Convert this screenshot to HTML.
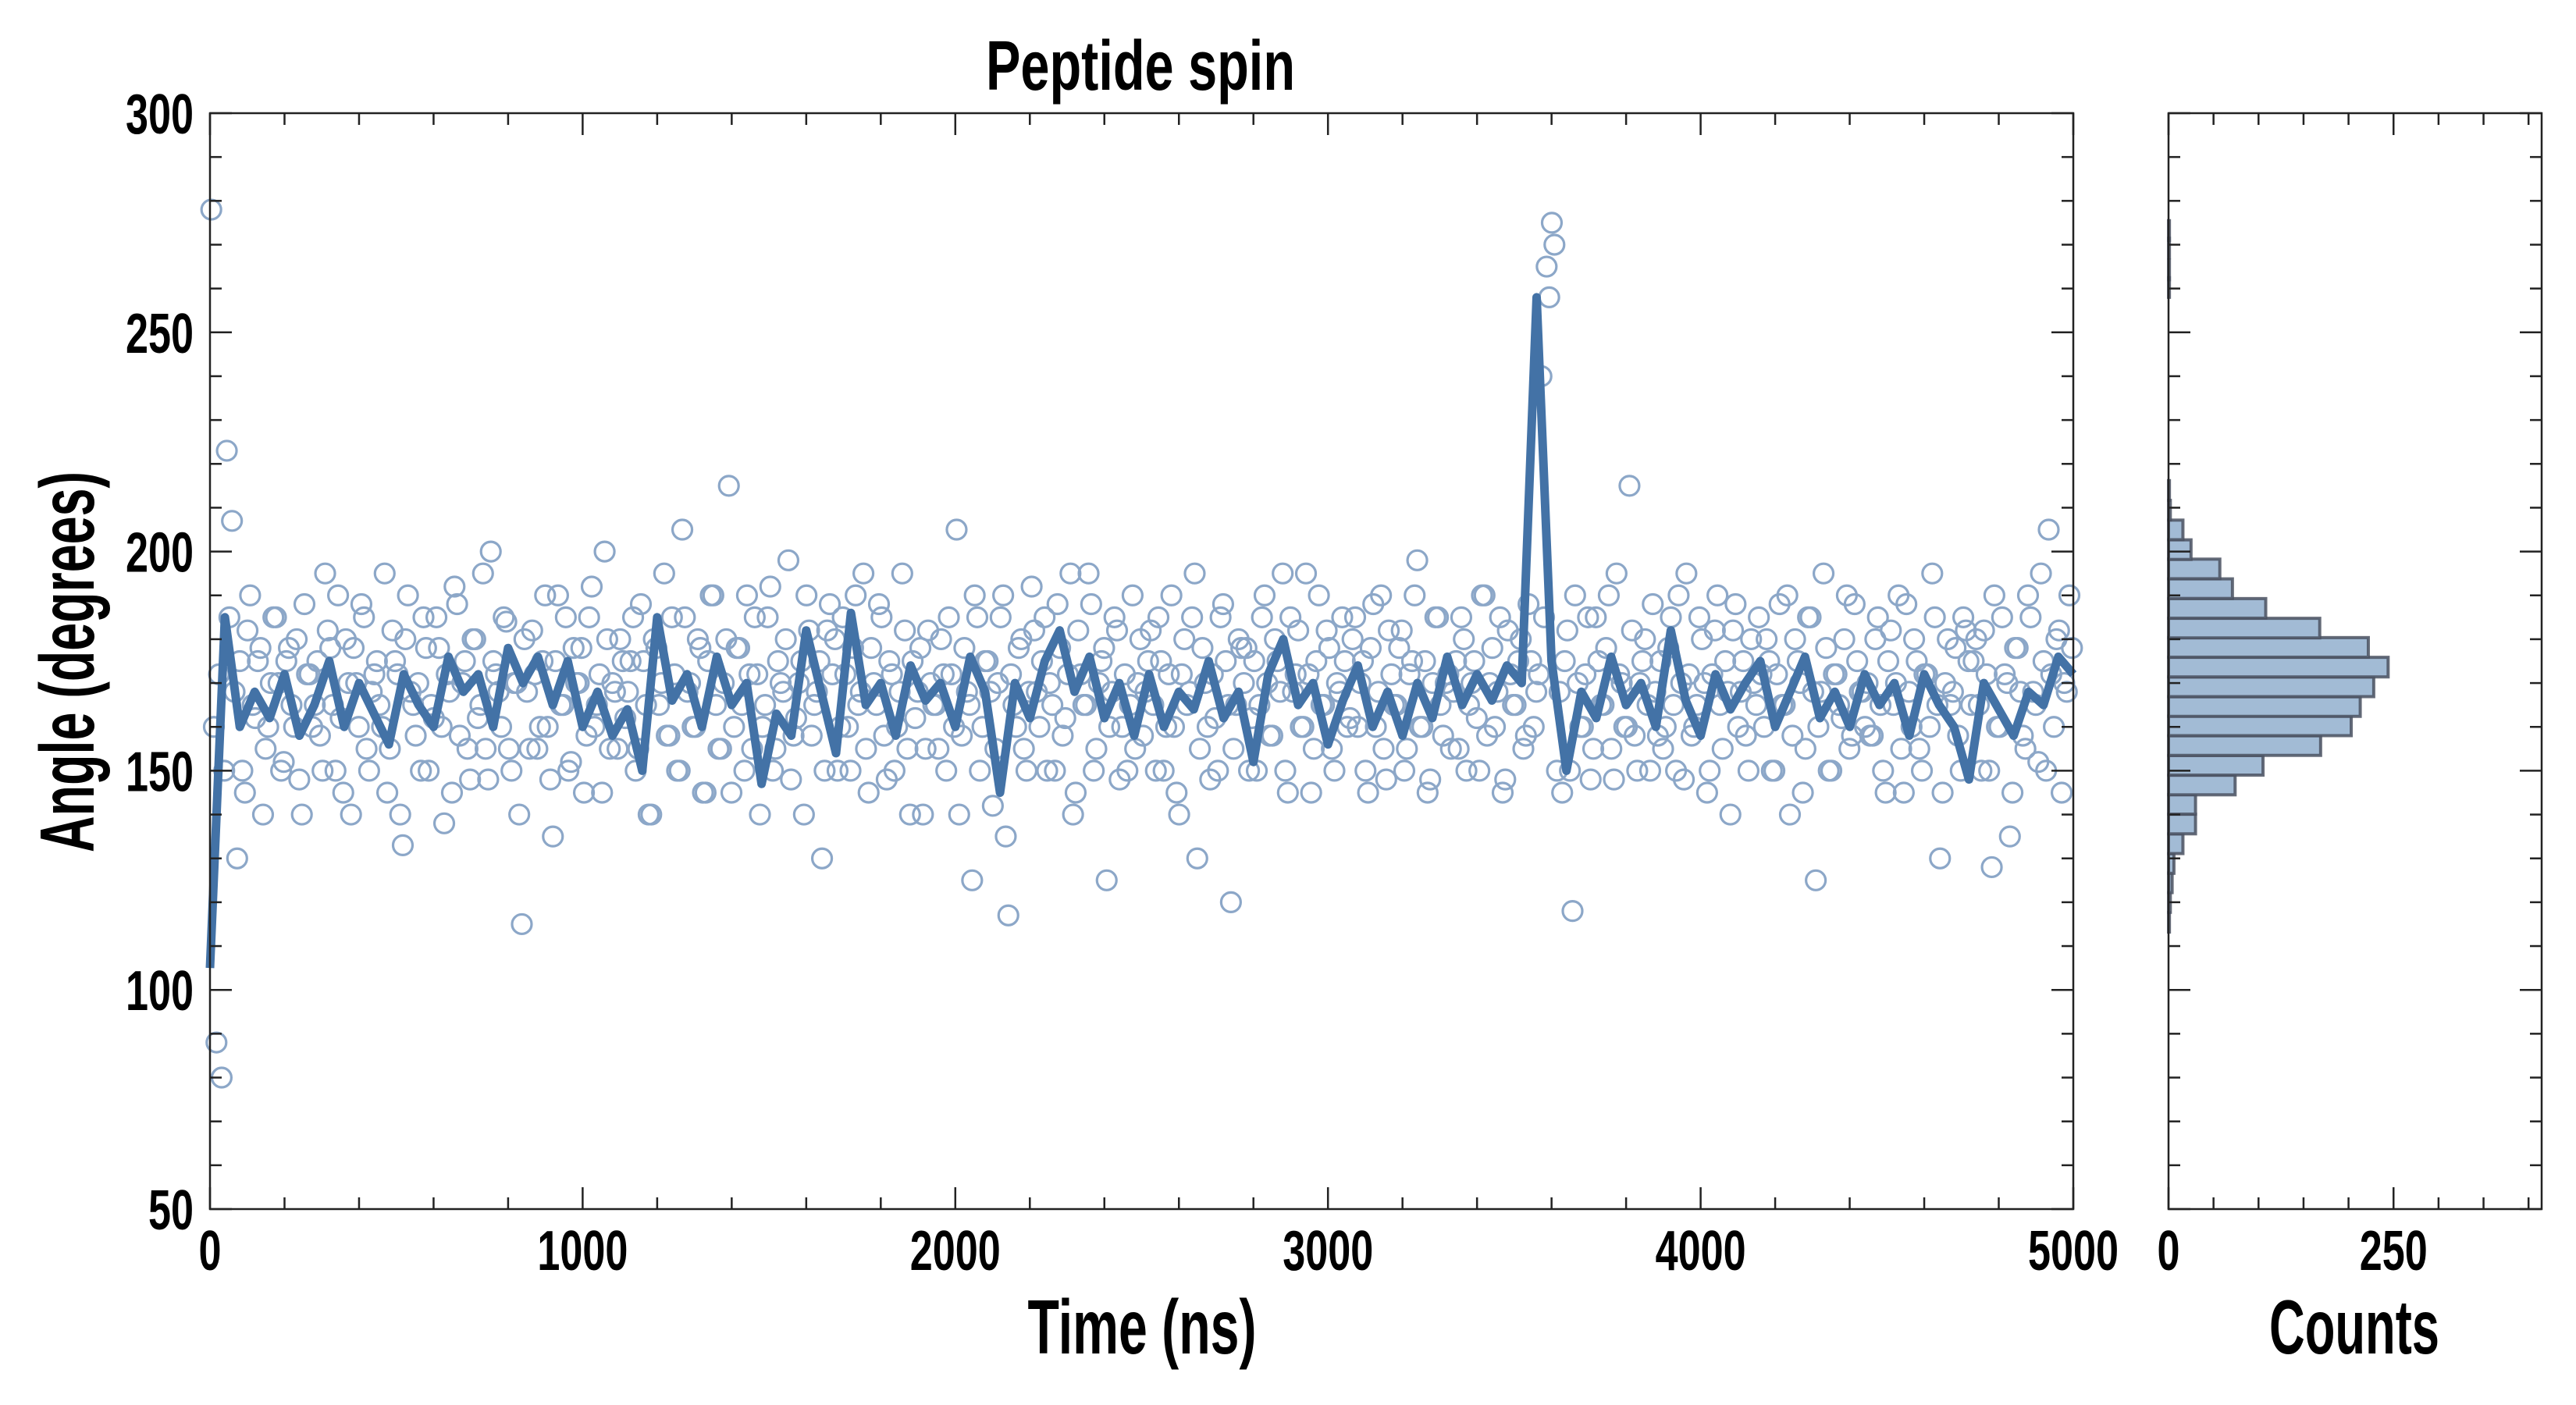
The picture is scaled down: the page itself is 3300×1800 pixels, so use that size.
<!DOCTYPE html>
<html><head><meta charset="utf-8">
<style>
html,body{margin:0;padding:0;background:#fff;}
svg{display:block;font-family:"Liberation Sans Narrow","Liberation Sans",sans-serif;font-weight:bold;}
</style></head>
<body>
<svg id="chart" width="3300" height="1800" viewBox="0 0 3300 1800" xmlns="http://www.w3.org/2000/svg">
<rect width="3300" height="1800" fill="#fff"/>
<g id="scatter"></g>
<g id="line"></g>
<g id="hist"></g>
<g id="axes"></g>
<text x="1461" y="115" font-size="90" text-anchor="middle" textLength="396" lengthAdjust="spacingAndGlyphs">Peptide spin</text>
<text x="1463" y="1734" font-size="98" text-anchor="middle" textLength="293" lengthAdjust="spacingAndGlyphs">Time (ns)</text>
<text x="3016" y="1734" font-size="98" text-anchor="middle" textLength="218" lengthAdjust="spacingAndGlyphs">Counts</text>
<text transform="translate(120,848) rotate(-90)" font-size="98" text-anchor="middle" textLength="488" lengthAdjust="spacingAndGlyphs">Angle (degrees)</text>
</svg>
<script>
const lineValues=[105,185,160,168,162,172,158,165,175,160,170,163,156,172,165,160,176,168,172,160,178,170,176,165,175,160,168,158,164,150,185,166,172,160,176,165,170,147,163,158,182,168,154,186,165,170,158,174,166,170,160,176,168,145,170,162,175,182,168,176,162,170,158,172,160,168,164,175,162,168,152,172,180,165,170,156,166,174,160,168,158,170,162,176,165,172,166,174,170,258,175,150,168,162,176,165,170,160,182,166,158,172,164,170,175,160,168,176,162,168,160,172,165,170,158,172,165,160,148,170,164,158,168,165,176,172];
const scatterValues=[
278,88,80,223,207,130,150,182,165,175,140,160,185,170,152,178,160,148,188,172,
165,158,195,178,150,162,180,140,170,188,155,168,175,160,145,182,172,133,190,165,
170,185,150,162,178,138,168,192,158,175,148,180,165,155,200,172,160,184,150,170,
115,168,182,155,175,160,135,190,165,150,178,170,145,185,160,172,200,155,168,180,
162,175,150,188,165,140,178,170,158,185,150,205,168,160,180,145,175,190,155,170,
215,160,178,150,172,185,140,165,192,155,170,180,148,162,175,190,158,168,130,182,
172,150,185,160,178,165,195,145,170,188,158,175,150,168,182,140,162,178,155,170,
165,180,150,172,205,158,168,125,185,160,175,142,170,190,117,165,178,155,168,182,
160,185,170,150,178,162,195,145,172,165,188,155,175,125,168,182,160,150,190,170,
158,175,165,185,150,172,160,140,180,168,195,155,170,148,162,185,175,120,165,178,
178,162,150,185,170,158,175,195,145,168,182,160,172,155,190,165,178,150,168,175,
162,185,170,150,178,160,190,148,172,165,182,155,175,198,160,145,170,185,158,172,
168,155,180,165,175,150,190,170,160,185,148,172,165,180,158,175,168,240,265,275,
150,145,182,118,170,160,185,155,175,165,190,148,172,160,215,158,170,180,150,168,
175,160,185,150,170,195,158,165,180,145,172,190,155,168,182,160,175,150,170,185,
160,175,150,188,165,140,180,170,155,185,125,168,178,150,172,162,190,158,175,168,
170,158,185,150,175,165,190,145,168,180,155,172,160,185,130,170,165,178,150,182,
165,180,150,172,128,160,185,170,145,178,158,190,168,152,175,205,160,182,170,190];
const scatterValuesB=[
160,172,150,185,168,175,145,190,162,178,155,170,185,150,175,165,180,140,172,160,
175,150,182,165,190,145,170,178,160,185,150,172,165,195,155,175,140,180,168,158,
150,178,165,185,160,172,145,188,170,155,180,162,195,148,175,168,185,155,170,140,
180,155,172,160,190,148,175,165,185,152,170,178,158,192,165,145,180,170,155,175,
168,185,155,175,140,180,165,195,158,172,150,185,170,160,178,145,190,165,155,180,
145,178,165,190,155,172,160,185,150,175,168,198,158,170,140,182,165,175,150,188,
180,160,172,150,190,168,155,178,165,185,148,172,160,195,155,175,168,140,182,165,
155,172,185,160,140,178,165,190,150,175,168,155,185,135,172,160,180,150,192,168,
175,150,165,188,158,172,140,182,165,195,150,170,178,160,185,148,172,165,155,180,
168,182,150,175,160,190,145,172,165,185,130,178,160,172,150,188,165,155,180,170,
150,175,165,190,158,180,168,150,185,172,160,195,145,175,165,182,155,170,185,160,
180,160,175,145,188,168,155,182,165,178,150,172,190,160,175,148,185,165,170,155,
175,185,150,170,162,190,158,178,168,145,182,165,175,155,188,160,172,185,258,270,
168,175,150,190,160,172,148,185,165,178,155,195,170,160,182,150,175,165,188,158,
155,178,165,190,148,172,160,185,170,150,182,165,175,140,188,168,158,180,165,172,
180,150,172,165,190,158,175,145,185,168,160,195,150,172,165,180,155,188,168,160,
158,180,165,145,182,170,155,188,160,175,150,172,195,165,145,180,168,158,185,175,
175,165,182,150,190,160,172,135,178,168,155,185,165,195,150,172,180,145,168,178];
const histStart=[113.2,117.7,122.2,126.6,131.1,135.6,140.1,144.5,149.0,153.5,158.0,162.4,166.9,171.4,175.9,180.3,184.8,189.3,193.8,198.2,202.7,207.2,211.7,258,262,267,271];
const histCounts=[1,2,4,6,16,30,30,74,105,169,203,213,228,244,222,168,108,71,57,25,16,2,1,1,1,1,1];
const histBinWidth=4.47;
const xTicks=[0,1000,2000,3000,4000,5000];
const yTicks=[50,100,150,200,250,300];
const countTicks=[0,250];

const NS="http://www.w3.org/2000/svg";
const L=269,R=2656,T=145,B=1549,HL=2778,HR=3256;
const xS=t=>L+(t/5000)*(R-L);
const yS=v=>B-((v-50)/250)*(B-T);
const cS=c=>HL+c*1.153;
function mk(tag,parent,attrs){const e=document.createElementNS(NS,tag);for(const k in attrs)e.setAttribute(k,attrs[k]);parent.appendChild(e);return e;}

const sc=document.getElementById('scatter');
function drawScatter(arr,offset){
  const step=5000/arr.length;
  arr.forEach((v,i)=>{
    const c=mk('circle',sc,{cx:xS(i*step+step*offset),cy:yS(v),r:12.5,fill:'none',stroke:'#8ca7c8','stroke-width':3.2});
    
    
  });
}
drawScatter(scatterValues,0.25);
drawScatter(scatterValuesB,0.75);

const lg=document.getElementById('line');
const lStep=5000/(lineValues.length-1);
const pts=lineValues.map((v,i)=>xS(i*lStep).toFixed(1)+','+yS(v).toFixed(1)).join(' ');
const pl=mk('polyline',lg,{points:pts,fill:'none',stroke:'#4372a6','stroke-width':11,'stroke-linejoin':'round'});



const hg=document.getElementById('hist');
histStart.forEach((s,i)=>{
  const y1=yS(s+histBinWidth),y0=yS(s);
  const r=mk('rect',hg,{x:HL,y:y1,width:cS(histCounts[i])-HL,height:y0-y1,fill:'#a2bbd5',stroke:'#4a5160','stroke-width':4,'stroke-opacity':0.85});
  
  
});

const ax=document.getElementById('axes');
function frame(x0,x1,name){const r=mk('rect',ax,{x:x0,y:T,width:x1-x0,height:B-T,fill:'none',stroke:'#222','stroke-width':2.5});}
frame(L,R,'main-plot-frame');frame(HL,HR,'histogram-frame');
function tick(x1,y1,x2,y2){mk('line',ax,{x1:x1,y1:y1,x2:x2,y2:y2,stroke:'#222','stroke-width':2.5});}
for(let t=0;t<=5000;t+=200){const x=xS(t),len=t%1000===0?28:15;tick(x,B,x,B-len);tick(x,T,x,T+len);}
for(let v=50;v<=300;v+=10){const y=yS(v),len=v%50===0?28:15;tick(L,y,L+len,y);tick(R,y,R-len,y);tick(HL,y,HL+len,y);tick(HR,y,HR-len,y);}
for(let c=0;c<=400;c+=50){const x=cS(c);if(x>HR)break;const len=c%250===0?28:15;tick(x,B,x,B-len);tick(x,T,x,T+len);}
function label(txt,x,y,anchor,name){
  const s=String(txt);
  const e=mk('text',ax,{x:x,y:y,'font-size':72,'text-anchor':anchor,textLength:29*s.length,lengthAdjust:'spacingAndGlyphs'});
  e.textContent=s;
  
  
}
xTicks.forEach(t=>label(t,xS(t),1627,'middle','x-tick-label'));
yTicks.forEach(v=>label(v,248,yS(v)+26,'end','y-tick-label'));
countTicks.forEach(c=>label(c,cS(c),1627,'middle','count-tick-label'));
</script>
</body></html>
